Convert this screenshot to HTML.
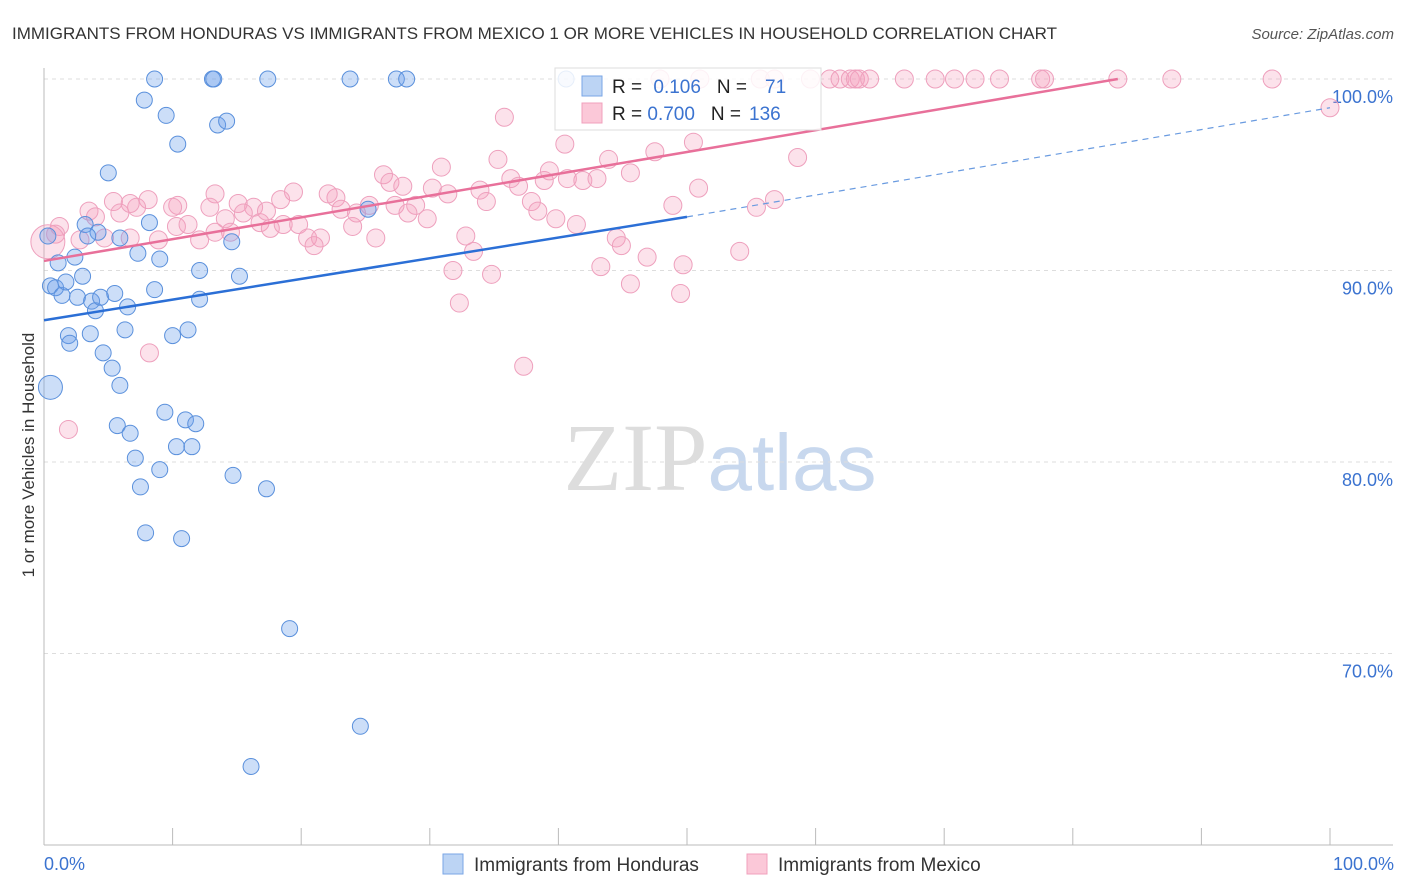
<!DOCTYPE html>
<html><head><meta charset="utf-8"><style>
body{margin:0;background:#fff;font-family:"Liberation Sans",sans-serif;}
svg{display:block}
</style></head><body>
<svg id="chart" width="1406" height="892" xmlns="http://www.w3.org/2000/svg" font-family="Liberation Sans, sans-serif">
<text x="12" y="39" font-size="17" fill="#333">IMMIGRANTS FROM HONDURAS VS IMMIGRANTS FROM MEXICO 1 OR MORE VEHICLES IN HOUSEHOLD CORRELATION CHART</text>
<text x="1394" y="39" font-size="15" fill="#555" text-anchor="end" font-style="italic">Source: ZipAtlas.com</text>
<text x="720" y="490" font-size="96" text-anchor="middle" font-family="Liberation Serif, serif" fill="#ddd">ZIP<tspan fill="#c8d8ee" font-family="Liberation Sans, sans-serif" font-size="80">atlas</tspan></text>
<g id="grid"></g><g id="axes"></g><g id="pts"></g><g id="lines"></g>
<text transform="translate(34,455) rotate(-90)" font-size="17" fill="#333" text-anchor="middle">1 or more Vehicles in Household</text>
<g>
<rect x="555" y="68" width="266" height="62" fill="#fff" fill-opacity="0.85" stroke="#ddd"/>
<rect x="582" y="76" width="20" height="20" fill="#bcd4f4" stroke="#7aa6e6"/>
<rect x="582" y="103" width="20" height="20" fill="#fbc8d8" stroke="#f0a0bc"/>
<text x="612" y="93" font-size="19" fill="#222">R = <tspan fill="#3b73d0" dx="6">0.106</tspan><tspan fill="#222" dx="16">N =</tspan><tspan fill="#3b73d0" dx="18">71</tspan></text>
<text x="612" y="120" font-size="19" fill="#222">R = <tspan fill="#3b73d0">0.700</tspan><tspan fill="#222" dx="16">N =</tspan><tspan fill="#3b73d0" dx="8">136</tspan></text>
</g>
<g>
<rect x="443" y="854" width="20" height="20" fill="#bcd4f4" stroke="#7aa6e6"/>
<text x="474" y="871" font-size="19" fill="#333">Immigrants from Honduras</text>
<rect x="747" y="854" width="20" height="20" fill="#fbc8d8" stroke="#f0a0bc"/>
<text x="778" y="871" font-size="19" fill="#333">Immigrants from Mexico</text>
</g>
<text x="44" y="870" font-size="18" fill="#3b73d0">0.0%</text>
<text x="1394" y="870" font-size="18" fill="#3b73d0" text-anchor="end">100.0%</text>
</svg>
<script>
const yTicks=[100,90,80,70];
const xTicks=[0,10,20,30,40,50,60,70,80,90,100];
const blueX=[8.6,13.1,13.2,17.4,23.8,27.4,28.2,40.6,7.8,9.5,10.4,13.5,14.2,5.0,0.3,0.5,3.2,4.2,5.9,3.4,8.2,7.3,9.0,1.1,2.4,3.0,12.1,15.2,0.5,0.9,1.4,1.7,2.6,3.7,4.0,4.4,5.5,6.5,8.6,12.1,14.6,25.2,1.9,2.0,3.6,4.6,6.3,5.3,5.9,10.0,11.2,9.4,11.0,11.8,5.7,6.7,7.1,9.0,7.5,14.7,17.3,10.3,11.5,7.9,10.7,19.1,24.6,16.1];
const blueY=[100,100,100,100,100,100,100,100,98.9,98.1,96.6,97.6,97.8,95.1,91.8,83.9,92.4,92.0,91.7,91.8,92.5,90.9,90.6,90.4,90.7,89.7,90.0,89.7,89.2,89.1,88.7,89.4,88.6,88.4,87.9,88.6,88.8,88.1,89.0,88.5,91.5,93.2,86.6,86.2,86.7,85.7,86.9,84.9,84.0,86.6,86.9,82.6,82.2,82.0,81.9,81.5,80.2,79.6,78.7,79.3,78.6,80.8,80.8,76.3,76.0,71.3,66.2,64.1];
const pinkX=[47.9,51.0,55.7,56.8,59.6,61.1,61.9,62.7,63.1,63.4,64.2,66.9,69.3,70.8,72.4,74.3,77.5,77.8,83.5,87.7,95.5,100,35.8,40.5,43.9,47.5,50.5,58.6,30.9,35.3,26.4,26.9,27.9,30.2,31.4,33.9,36.3,36.9,38.9,39.3,40.7,41.9,43.0,45.6,50.9,56.8,55.4,48.9,34.4,37.9,38.4,39.8,41.4,25.3,27.3,28.9,28.3,29.8,24.3,22.7,22.1,23.1,24.0,19.4,18.4,16.3,15.1,13.3,12.9,14.1,14.5,16.8,17.6,18.6,19.8,17.3,15.5,10.4,10.0,8.1,7.2,5.4,5.9,6.7,3.5,4.0,1.2,0.9,2.8,4.7,6.7,8.9,10.3,11.2,12.1,13.3,20.5,21.5,21.0,25.8,32.8,33.4,44.5,44.9,46.9,43.3,49.7,54.1,31.8,34.8,45.6,32.3,49.5,37.3,8.2,1.9,0.3];
const pinkY=[100,100,100,100,100,100,100,100,100,100,100,100,100,100,100,100,100,100,100,100,100,98.5,98.0,96.6,95.8,96.2,96.7,95.9,95.4,95.8,95.0,94.6,94.4,94.3,94.0,94.2,94.8,94.4,94.7,95.2,94.8,94.7,94.8,95.1,94.3,93.7,93.3,93.4,93.6,93.6,93.1,92.7,92.4,93.4,93.4,93.4,93.0,92.7,93.0,93.8,94.0,93.2,92.3,94.1,93.7,93.3,93.5,94.0,93.3,92.7,92.0,92.5,92.2,92.4,92.4,93.1,93.0,93.4,93.3,93.7,93.3,93.6,93.0,93.5,93.1,92.8,92.3,91.9,91.6,91.7,91.7,91.6,92.3,92.4,91.6,92.0,91.7,91.7,91.3,91.7,91.8,91.0,91.7,91.3,90.7,90.2,90.3,91.0,90.0,89.8,89.3,88.3,88.8,85.0,85.7,81.7,91.5];
const blueTrend=[87.4,92.8,98.5]; // at x=0, 50, 100
const pinkTrend=[90.5,100]; // at x=0, 83.5
const pinkTrendEnd=83.5;
const NS="http://www.w3.org/2000/svg";
const xs=v=>44+v*12.86, ys=v=>79+(100-v)*19.15;
function mk(tag,attrs,parent){const e=document.createElementNS(NS,tag);for(const k in attrs)e.setAttribute(k,attrs[k]);document.getElementById(parent).appendChild(e);return e;}
yTicks.forEach(t=>{
 const l=mk('line',{x1:44,x2:1393,y1:ys(t),y2:ys(t),stroke:'#ddd','stroke-dasharray':'4,4'},'grid');
 
 
 const tx=mk('text',{x:1393,y:ys(t)+24,'font-size':18,fill:'#3b73d0','text-anchor':'end'},'grid');
 
 
 tx.textContent=t.toFixed(1)+'%';
});
const ax=mk('line',{x1:44,x2:1393,y1:845,y2:845,stroke:'#bbb'},'axes');


const ay=mk('line',{x1:44,x2:44,y1:68,y2:845,stroke:'#bbb'},'axes');


xTicks.forEach(t=>{
 const l=mk('line',{x1:xs(t),x2:xs(t),y1:828,y2:845,stroke:'#bbb'},'axes');
 
 
});
pinkX.forEach((x,i)=>{
 const big=i===pinkX.length-1;
 const c=mk('circle',{cx:xs(x),cy:ys(pinkY[i]),r:big?17:9,fill:'rgba(244,160,190,0.3)',stroke:'#eea0bd','stroke-width':1},'pts');
 
 
});
blueX.forEach((x,i)=>{
 const big=i===15;
 const c=mk('circle',{cx:xs(x),cy:ys(blueY[i]),r:big?12:8,fill:'rgba(110,160,235,0.35)',stroke:'#5a90dc','stroke-width':1},'pts');
 
 
});
const b1=mk('line',{x1:xs(0),y1:ys(blueTrend[0]),x2:xs(50),y2:ys(blueTrend[1]),stroke:'#2b6fd6','stroke-width':2.5},'lines');


const b2=mk('line',{x1:xs(50),y1:ys(blueTrend[1]),x2:xs(100),y2:ys(blueTrend[2]),stroke:'#6a9be0','stroke-width':1.2,'stroke-dasharray':'6,5'},'lines');


const p1=mk('line',{x1:xs(0),y1:ys(pinkTrend[0]),x2:xs(pinkTrendEnd),y2:ys(pinkTrend[1]),stroke:'#e8709a','stroke-width':2.5},'lines');


</script>
</body></html>
